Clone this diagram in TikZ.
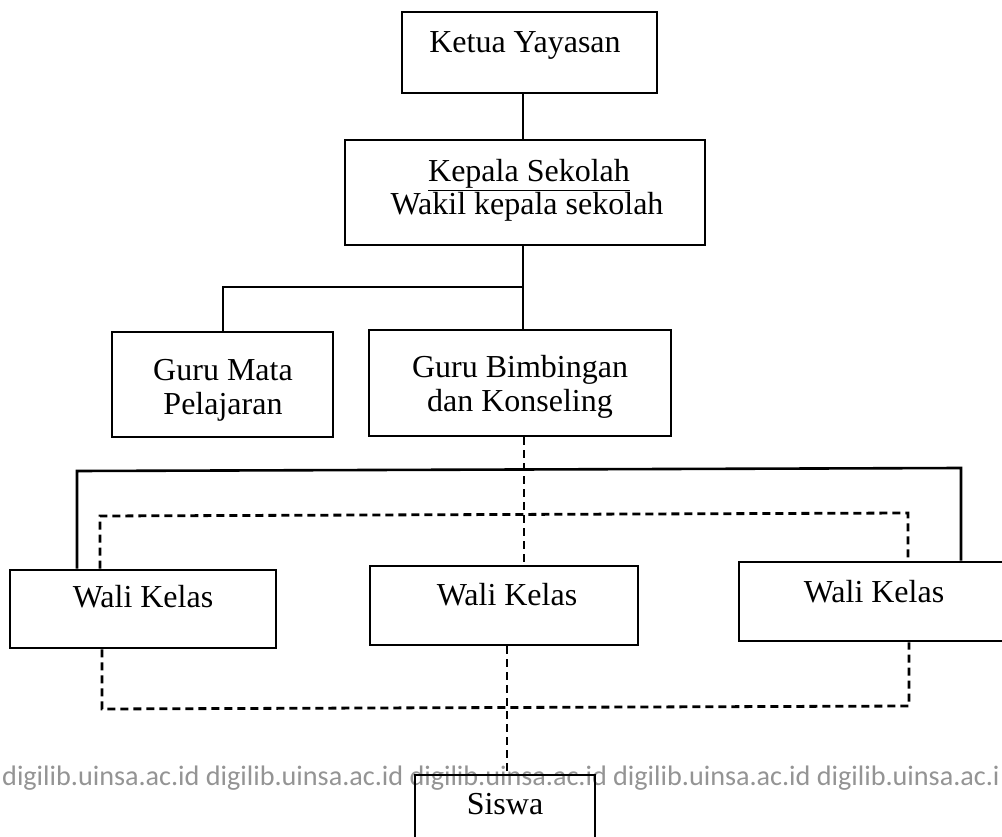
\documentclass[tikz,border=0pt]{standalone}
\usepackage{fontspec}
\setmainfont{Liberation Serif}
\newfontfamily\wmfont{Carlito}
\begin{document}
\begin{tikzpicture}[x=1pt,y=-1pt,
  box/.style={draw, line width=2.6pt, inner sep=0pt, rectangle},
  lbl/.style={anchor=base, inner sep=0pt, font=\fontsize{32}{34}\selectfont},
  link/.style={line width=2.6pt},
  dlink/.style={line width=2.8pt, dash pattern=on 8pt off 5pt}]
\useasboundingbox (0,0) rectangle (1002,837);
% watermark
\node[anchor=base west, inner sep=0pt, text=black!42] (wm) at (2,785)
  {\resizebox{998pt}{!}{\wmfont\fontsize{24}{26}\selectfont digilib.uinsa.ac.id digilib.uinsa.ac.id digilib.uinsa.ac.id digilib.uinsa.ac.id digilib.uinsa.ac.i}};
% boxes
\node[box, minimum width=255, minimum height=81] (ketua) at (529.5,52.5) {};
\node[box, minimum width=360, minimum height=105] (kepala) at (525,192.5) {};
\node[box, minimum width=221, minimum height=105] (gmata) at (222.5,384.5) {};
\node[box, minimum width=302, minimum height=106] (gbk) at (520,383) {};
\node[box, minimum width=266, minimum height=78] (wali1) at (143,609) {};
\node[box, minimum width=268, minimum height=79] (wali2) at (504,605.5) {};
\node[box, minimum width=273, minimum height=79] (wali3) at (875.5,601.5) {};
\node[box, minimum width=180, minimum height=75] (siswa) at (505,812.5) {};
% texts
\node[lbl] (tketua) at (525,53) {Ketua Yayasan};
\node[lbl] (tkep1) at (529,182) {\underline{Kepala Sekolah}};
\node[lbl] (tkep2) at (527,215) {Wakil kepala sekolah};
\node[lbl] (tgm1) at (223,380) {Guru Mata};
\node[lbl] (tgm2) at (223,414) {Pelajaran};
\node[lbl] (tgb1) at (520,377) {Guru Bimbingan};
\node[lbl] (tgb2) at (520,411) {dan Konseling};
\node[lbl] (tw1) at (143,607) {Wali Kelas};
\node[lbl] (tw2) at (507,605) {Wali Kelas};
\node[lbl] (tw3) at (874,602) {Wali Kelas};
\node[lbl] (tsiswa) at (505,814) {Siswa};
% connector x positions
\coordinate (xk) at (523,0);
\coordinate (xm) at (223,0);
\coordinate (xd) at (524,0);
\coordinate (xl) at (77,0);
\coordinate (xr) at (961,0);
\coordinate (xdl) at (100,0);
\coordinate (xdr) at (908,0);
\coordinate (xbl) at (102,0);
\coordinate (xbr) at (909,0);
\coordinate (xs) at (507,0);
% solid connectors
\draw[link] (xk |- ketua.south) -- (xk |- kepala.north);
\draw[link] (xk |- kepala.south) -- (xk |- gbk.north);
\draw[link] (xm |- gmata.north) -- (223,287) -- (523,287);
\draw[link] (xl |- wali1.north) -- (77,471) -- (961,468) -- (xr |- wali3.north);
% dashed connectors
\draw[dlink] (xd |- gbk.south) -- (xd |- wali2.north);
\draw[dlink] (xdl |- wali1.north) -- (100,516) -- (908,513) -- (xdr |- wali3.north);
\draw[dlink] (xbl |- wali1.south) -- (102,709) -- (909,706) -- (xbr |- wali3.south);
\draw[dlink] (xs |- wali2.south) -- (xs |- siswa.north);
\end{tikzpicture}
\end{document}
